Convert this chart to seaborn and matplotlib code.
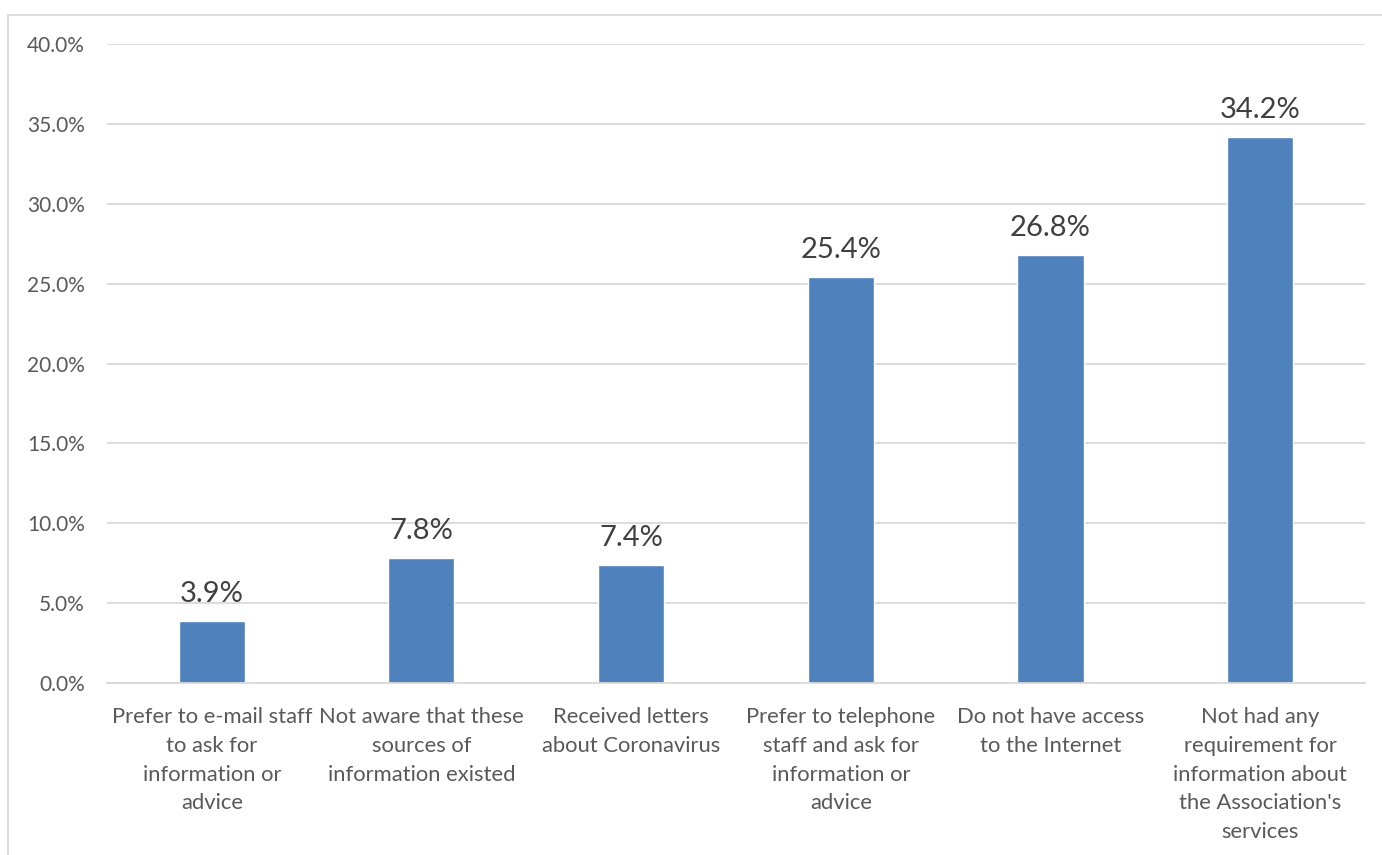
import matplotlib
matplotlib.use("Agg")
import matplotlib.pyplot as plt
import matplotlib.patches as mpatches
from matplotlib.ticker import FuncFormatter, MultipleLocator
import seaborn as sns
import pandas as pd

categories = [
    "Prefer to e-mail staff\nto ask for\ninformation or\nadvice",
    "Not aware that these\nsources of\ninformation existed",
    "Received letters\nabout Coronavirus",
    "Prefer to telephone\nstaff and ask for\ninformation or\nadvice",
    "Do not have access\nto the Internet",
    "Not had any\nrequirement for\ninformation about\nthe Association's\nservices",
]
values = [3.9, 7.8, 7.4, 25.4, 26.8, 34.2]

sns.set_theme(style="white")
plt.rcParams["font.family"] = ["Lato", "DejaVu Sans"]

df = pd.DataFrame({"category": categories, "value": values})

fig = plt.figure(figsize=(13.82, 8.55), dpi=100)
ax = fig.add_axes([0.0774, 0.2012, 0.9103, 0.7473])

sns.barplot(data=df, x="category", y="value", color="#4F81BD",
            saturation=1, width=0.315, ax=ax)

ax.set_ylim(0, 40)
ax.set_xlim(-0.5, len(categories) - 0.5)
ax.yaxis.set_major_locator(MultipleLocator(5))
ax.yaxis.set_major_formatter(FuncFormatter(lambda v, _: f"{v:.1f}%"))
ax.grid(axis="y", color="#D9D9D9", linewidth=1.3)
ax.set_axisbelow(True)
for side in ["top", "right", "left"]:
    ax.spines[side].set_visible(False)
ax.spines["bottom"].set_color("#D9D9D9")
ax.spines["bottom"].set_linewidth(1.3)
ax.set_xlabel("")
ax.set_ylabel("")
ax.tick_params(axis="y", length=0, pad=16, labelsize=15, labelcolor="#595959")
ax.tick_params(axis="x", length=0, pad=17, labelsize=15.8, labelcolor="#595959")
for lab in ax.get_xticklabels():
    lab.set_linespacing(1.56)

for i, v in enumerate(values):
    ax.annotate(f"{v:.1f}%", xy=(i, v), xytext=(0, 10), textcoords="offset points",
                ha="center", va="bottom", fontsize=21, color="#404040")

# outer chart frame
frame = mpatches.Rectangle((8 / 1382, -0.1), 1.2, 1 - 15 / 855 + 0.1,
                           transform=fig.transFigure, fill=False,
                           edgecolor="#D9D9D9", linewidth=1.3, clip_on=False)
fig.patches.append(frame)

fig.savefig("out.png", dpi=100, facecolor="white")
